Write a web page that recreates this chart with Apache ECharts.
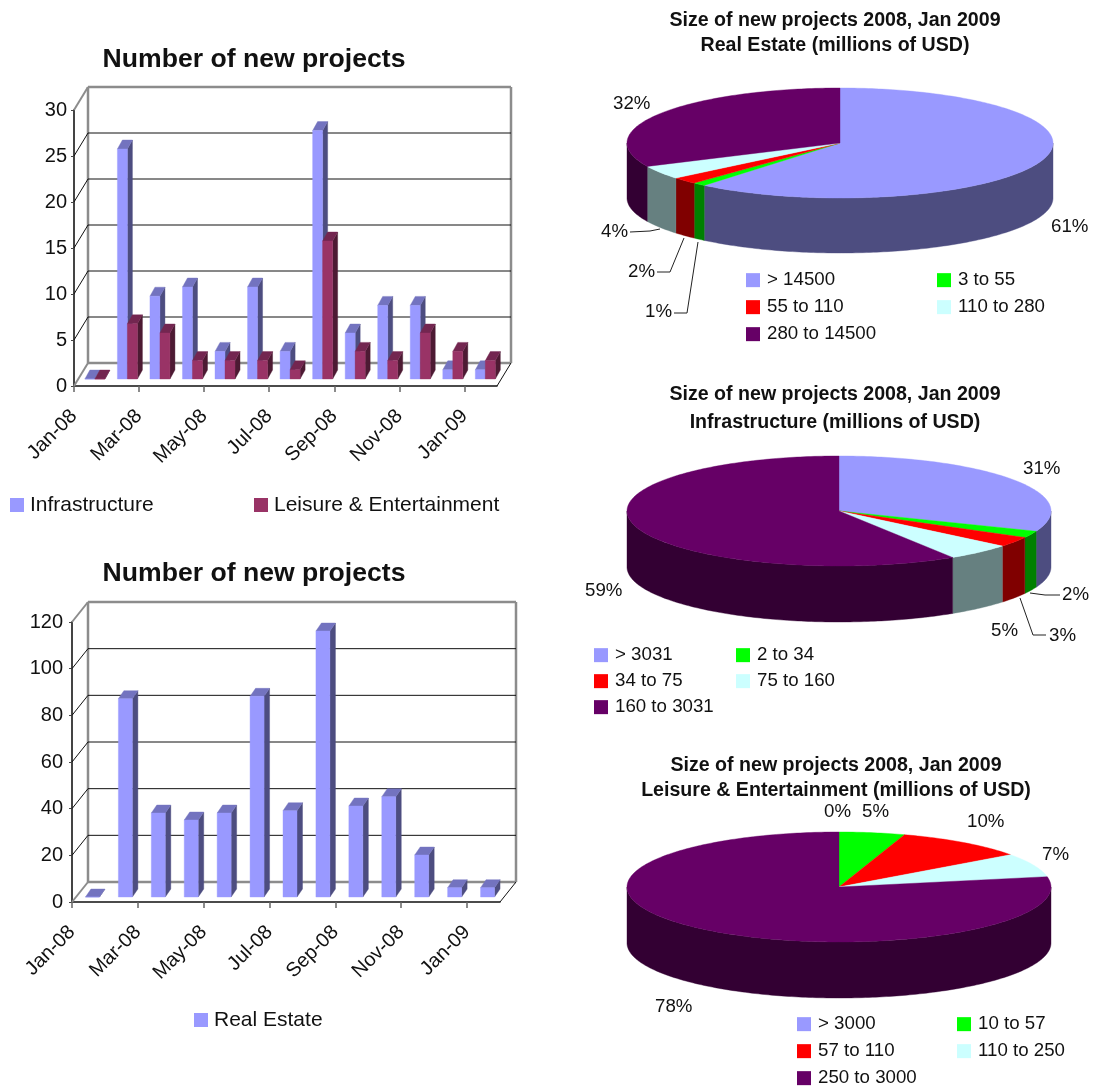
<!DOCTYPE html>
<html>
<head>
<meta charset="utf-8">
<style>html,body{margin:0;padding:0;background:#fff}#main{width:1094px;height:1086px}</style>
<script src="https://cdn.jsdelivr.net/npm/echarts@6/dist/echarts.min.js"></script>
</head>
<body>
<div id="main"></div>
<script>
// Monthly project counts
const months = ['Jan-08','Feb-08','Mar-08','Apr-08','May-08','Jun-08','Jul-08','Aug-08','Sep-08','Oct-08','Nov-08','Dec-08','Jan-09'];
const infrastructure = [0,25,9,10,3,10,3,27,5,8,8,1,1];
const leisure = [0,6,5,2,2,2,1,15,3,2,5,3,2];
const realEstate = [0,85,36,33,36,86,37,114,39,43,18,4,4];
const countTicksTop = [0,5,10,15,20,25,30];
const countTicksBottom = [0,20,40,60,80,100,120];

// Share of projects per size band, percent
const realEstateNames = ['> 14500','3 to 55','55 to 110','110 to 280','280 to 14500'];
const realEstateShare = [61,1,2,4,32];
const infraNames = ['> 3031','2 to 34','34 to 75','75 to 160','160 to 3031'];
const infraShare = [31,2,3,5,59];
const leisureNames = ['> 3000','10 to 57','57 to 110','110 to 250','250 to 3000'];
const leisureShare = [0,5,10,7,78];

const FONT = '"Liberation Sans", Arial, sans-serif';
const GRAY = '#8c8c8c';
const sliceTop = ['#9999FF','#00FF00','#FF0000','#CCFFFF','#660066'];
const sliceSide = ['#4D4D80','#008000','#800000','#668080','#330033'];

// Band slot on a category axis with one extra trailing slot so ticks sit on band edges
const slots = months.concat(['']);

function wallSeries(gridIndex, ticks, depth) {
  const top = ticks[ticks.length - 1];
  return {
    type: 'custom', xAxisIndex: gridIndex, yAxisIndex: gridIndex, silent: true, z: 1,
    data: ticks.map(v => [v]),
    renderItem(params, api) {
      const v = api.value(0);
      const a = api.coord([0, v]), b = api.coord([months.length, v]);
      const line = (x1, y1, x2, y2, color, w) => ({
        type: 'line', shape: {x1, y1, x2, y2}, style: {stroke: color, lineWidth: w}
      });
      const bx = a[0] + depth[0], by = a[1] + depth[1], ex = b[0] + depth[0];
      const edge = v === 0 || v === top;
      const items = [
        line(a[0], a[1], bx, by, edge ? GRAY : '#111', edge ? 2 : 1),
        line(bx, by, ex, by, edge ? GRAY : '#111', edge ? 2.5 : 1)
      ];
      if (v === 0) {
        const t = api.coord([0, top]);
        items.push(line(bx, by, bx, t[1] + depth[1], GRAY, 2.5));
        items.push(line(ex, by, ex, t[1] + depth[1], GRAY, 2.5));
        items.push(line(b[0], b[1], ex, by, '#111', 1));
      }
      return {type: 'group', children: items};
    }
  };
}

function barSeries(name, values, gridIndex, opt) {
  return {
    type: 'custom', name, xAxisIndex: gridIndex, yAxisIndex: gridIndex, z: 3 + opt.index,
    itemStyle: {color: opt.front},
    data: values.map((v, i) => [i, v]),
    renderItem(params, api) {
      const i = api.value(0), v = api.value(1);
      const base = api.coord([i, 0]), tip = api.coord([i, v]);
      const band = api.coord([i + 1, 0])[0] - base[0];
      const x0 = base[0] + band / 2 + opt.shift[0] - opt.count * opt.width / 2 + opt.index * opt.width;
      const x1 = x0 + opt.width;
      const y0 = base[1] + opt.shift[1], y1 = tip[1] + opt.shift[1];
      const [dx, dy] = opt.cap;
      const poly = (points, fill) => ({
        type: 'polygon', shape: {points}, style: {fill, stroke: fill, lineWidth: 0.4}
      });
      return {type: 'group', children: [
        poly([[x1, y0], [x1 + dx, y0 + dy], [x1 + dx, y1 + dy], [x1, y1]], opt.side),
        poly([[x0, y1], [x1, y1], [x1 + dx, y1 + dy], [x0 + dx, y1 + dy]], opt.top),
        poly([[x0, y0], [x1, y0], [x1, y1], [x0, y1]], opt.front)
      ]};
    }
  };
}

// One slice of a tilted pie: flat top plus the visible part of the outer rim
function sliceSeries(name, values, idx, disc) {
  const before = values.slice(0, idx).reduce((s, v) => s + v, 0);
  return {
    type: 'custom', name, coordinateSystem: 'none', z: 3, silent: true,
    itemStyle: {color: sliceTop[idx]},
    data: [[values[idx]]],
    renderItem(params, api) {
      const share = api.value(0);
      if (!share) return {type: 'group', children: []};
      const a0 = before / 100 * 2 * Math.PI, a1 = (before + share) / 100 * 2 * Math.PI;
      const at = (a, drop) => [disc.cx + disc.rx * Math.sin(a), disc.cy - disc.ry * Math.cos(a) + drop];
      const arc = (from, to, drop) => {
        const out = [], n = Math.max(2, Math.ceil((to - from) * 60));
        for (let k = 0; k <= n; k++) out.push(at(from + (to - from) * k / n, drop));
        return out;
      };
      const children = [];
      const s0 = Math.max(a0, Math.PI / 2), s1 = Math.min(a1, 1.5 * Math.PI);
      if (s1 > s0) {
        children.push({
          type: 'polygon',
          shape: {points: arc(s0, s1, 0).concat(arc(s0, s1, disc.h).reverse())},
          style: {fill: sliceSide[idx], stroke: sliceSide[idx], lineWidth: 0.4}
        });
      }
      children.push({
        type: 'polygon',
        shape: {points: [[disc.cx, disc.cy]].concat(arc(a0, a1, 0))},
        style: {fill: sliceTop[idx], stroke: sliceTop[idx], lineWidth: 0.4}
      });
      return {type: 'group', children};
    }
  };
}

function categoryAxis(gridIndex) {
  return {
    type: 'category', gridIndex, data: slots, boundaryGap: false,
    axisLine: {show: true, lineStyle: {color: '#111', width: 1.5}},
    axisTick: {show: true, interval: 1, length: 6, lineStyle: {color: '#666', width: 1.5}},
    axisLabel: {interval: 1, rotate: 45, margin: 27, fontFamily: FONT, fontSize: 20, color: '#111', align: 'right', verticalAlign: 'middle'},
    splitLine: {show: false}
  };
}
function valueAxis(gridIndex, ticks, margin) {
  return {
    type: 'value', gridIndex, min: 0, max: ticks[ticks.length - 1], interval: ticks[1],
    axisLine: {show: true, lineStyle: {color: '#444', width: 2}},
    axisTick: {show: true, length: 3, lineStyle: {color: '#444', width: 1}},
    axisLabel: {margin, fontFamily: FONT, fontSize: 20, color: '#111'},
    splitLine: {show: false}
  };
}

const discs = [
  {cx: 840, cy: 143, rx: 213, ry: 55, h: 55},
  {cx: 839, cy: 511, rx: 212, ry: 55, h: 56},
  {cx: 839, cy: 887, rx: 212, ry: 55, h: 56}
];

const series = [
  wallSeries(0, countTicksTop, [14, -23]),
  wallSeries(1, countTicksBottom, [16, -20]),
  barSeries('Infrastructure', infrastructure, 0, {index: 0, count: 2, width: 10, shift: [4.6, -7], cap: [5, -9], front: '#9999FF', side: '#4D4D80', top: '#7373BF'}),
  barSeries('Leisure & Entertainment', leisure, 0, {index: 1, count: 2, width: 10, shift: [4.6, -7], cap: [5, -9], front: '#993366', side: '#4D1A33', top: '#732650'}),
  barSeries('Real Estate', realEstate, 1, {index: 0, count: 1, width: 14, shift: [4, -5], cap: [5.5, -8], front: '#9999FF', side: '#4D4D80', top: '#7373BF'})
];
[[realEstateNames, realEstateShare], [infraNames, infraShare], [leisureNames, leisureShare]].forEach(([names, values], p) => {
  names.forEach((n, i) => series.push(sliceSeries(n, values, i, discs[p])));
});

// Legends: each entry is placed on its own so the columns line up
function legendItem(name, left, cy, fontSize, gap) {
  return {
    data: [name], left, top: cy - fontSize / 2, padding: 0, orient: 'horizontal', selectedMode: false,
    icon: 'rect', itemWidth: 14, itemHeight: 14,
    textStyle: {fontFamily: FONT, fontSize, color: '#111', padding: [0, 0, 0, gap]}
  };
}
const legends = [
  legendItem('Infrastructure', 10, 505, 21, 1),
  legendItem('Leisure & Entertainment', 254, 505, 21, 1),
  legendItem('Real Estate', 194, 1020, 21, 1)
];
const legendColumns = [[746, 937], [594, 736], [797, 957]];
const legendRows = [[280, 307, 334], [655, 681, 707], [1024, 1051, 1078]];
[realEstateNames, infraNames, leisureNames].forEach((names, p) => {
  names.forEach((n, i) => {
    legends.push(legendItem(n, legendColumns[p][i % 2], legendRows[p][Math.floor(i / 2)], 18.7, 2));
  });
});

function head(text, x, y, lineHeight) {
  return {
    text, left: x, top: y, textAlign: 'center', padding: 0,
    textStyle: {fontFamily: FONT, fontWeight: 'bold', fontSize: lineHeight ? 19.6 : 26.6, color: '#111', lineHeight: lineHeight || 30}
  };
}
const titles = [
  head('Number of new projects', 254, 45),
  head('Number of new projects', 254, 559),
  head('Size of new projects 2008, Jan 2009\nReal Estate (millions of USD)', 835, 8, 25),
  head('Size of new projects 2008, Jan 2009\nInfrastructure (millions of USD)', 835, 381, 28),
  head('Size of new projects 2008, Jan 2009\nLeisure & Entertainment (millions of USD)', 836, 753, 25)
];

// Percent captions on the pies, with leader lines for the thin slices
const caption = (text, x, y) => ({
  type: 'text', x, y, style: {text, fontFamily: FONT, fontSize: 18.7, fill: '#111', verticalAlign: 'middle'}
});
const leader = (points) => ({
  type: 'polyline', shape: {points}, style: {stroke: '#222', lineWidth: 1, fill: null}
});
const annotations = [
  caption('32%', 613, 104), caption('61%', 1051, 227), caption('4%', 601, 232), caption('2%', 628, 272), caption('1%', 645, 312),
  caption('31%', 1023, 469), caption('59%', 585, 591), caption('5%', 991, 631), caption('3%', 1049, 636), caption('2%', 1062, 595),
  caption('0%', 824, 812), caption('5%', 862, 812), caption('10%', 967, 822), caption('7%', 1042, 855), caption('78%', 655, 1007),
  leader([[630, 232], [650, 231], [660, 229]]),
  leader([[657, 272], [670, 272], [684, 238]]),
  leader([[674, 313], [687, 313], [698, 242]]),
  leader([[1030, 593], [1045, 595], [1060, 595]]),
  leader([[1020, 598], [1033, 635], [1046, 635]])
];

const chart = echarts.init(document.getElementById('main'), null, {renderer: 'canvas'});
chart.setOption({
  animation: false,
  backgroundColor: '#fff',
  title: titles,
  legend: legends,
  grid: [
    {left: 74, top: 110, width: 423, height: 276},
    {left: 72, top: 622, width: 428, height: 280}
  ],
  xAxis: [categoryAxis(0), categoryAxis(1)],
  yAxis: [valueAxis(0, countTicksTop, 7), valueAxis(1, countTicksBottom, 9)],
  series,
  graphic: {elements: annotations}
});
</script>
</body>
</html>
